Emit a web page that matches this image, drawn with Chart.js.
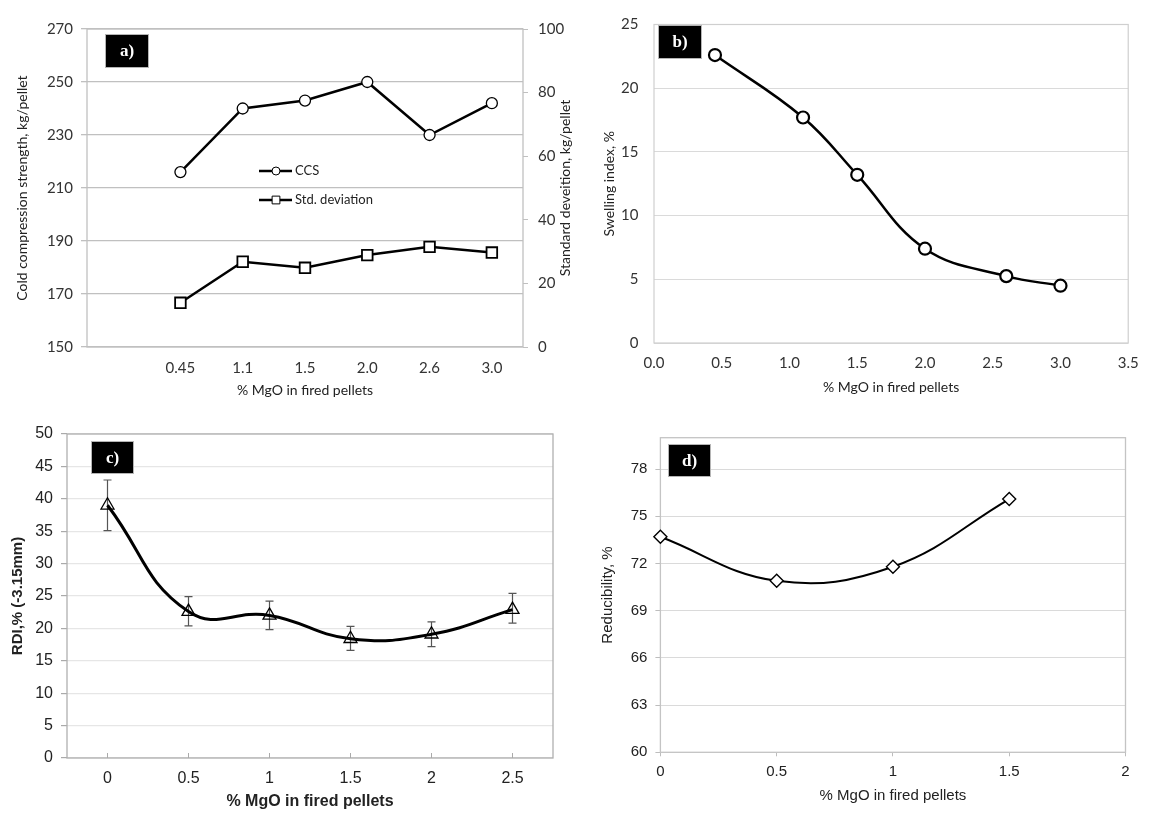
<!DOCTYPE html>
<html>
<head>
<meta charset="utf-8">
<title>MgO en pellets</title>
<script src="https://cdn.jsdelivr.net/npm/chart.js@4.4.1/dist/chart.umd.min.js"></script>
<style>
  html, body { margin: 0; padding: 0; background: #fff; }
  #page { position: relative; width: 1150px; height: 819px; overflow: hidden; }
  .panel { position: absolute; }
  .tag {
    position: absolute; background: #000; color: #fff;
    font: bold 17px "Liberation Serif", "DejaVu Serif", serif;
    display: flex; align-items: center; justify-content: center;
    box-shadow: 0 0 0 1px #b5b5b5;
  }
</style>
</head>
<body>
<div id="page">
  <div class="panel" style="left:0;top:0;width:580px;height:400px"><canvas id="chartA"></canvas></div>
  <div class="panel" style="left:580px;top:0;width:570px;height:400px"><canvas id="chartB"></canvas></div>
  <div class="panel" style="left:0;top:400px;width:580px;height:419px"><canvas id="chartC"></canvas></div>
  <div class="panel" style="left:580px;top:400px;width:570px;height:419px"><canvas id="chartD"></canvas></div>

  <div class="tag" style="left:106px;top:35px;width:42px;height:32px">a)</div>
  <div class="tag" style="left:659px;top:26px;width:42px;height:32px">b)</div>
  <div class="tag" style="left:92px;top:442px;width:41px;height:31px">c)</div>
  <div class="tag" style="left:669px;top:445px;width:41px;height:31px">d)</div>
</div>

<script>
// a) CCS y desviación estándar
const mgoA = ['', '0.45', '1.1', '1.5', '2.0', '2.6', '3.0'];
const ccs = [null, 216, 240, 243, 250, 230, 242];
const stdDev = [null, 13.9, 26.8, 24.9, 28.9, 31.5, 29.7];

// b) Swelling index
const mgoB = [0.45, 1.1, 1.5, 2.0, 2.6, 3.0];
const swelling = [22.6, 17.7, 13.2, 7.4, 5.25, 4.5];

// c) RDI con barras de error
const mgoC = ['0', '0.5', '1', '1.5', '2', '2.5'];
const rdi = [39.0, 22.6, 22.0, 18.4, 19.1, 22.9];
const rdiHigh = [42.9, 24.9, 24.2, 20.3, 21.0, 25.4];
const rdiLow = [35.1, 20.4, 19.8, 16.6, 17.2, 20.8];

// d) Reducibility
const mgoD = [0, 0.5, 1, 1.5];
const reducibility = [73.7, 70.9, 71.8, 76.1];
const ticksD = [60, 63, 66, 69, 72, 75, 78];

const sansAB = 'Lato, "Open Sans", sans-serif';
const sansCD = '"Liberation Sans", Arial, sans-serif';

// Marco alrededor del área del gráfico
function frame(color, width) {
  return {
    id: 'frame',
    beforeDatasetsDraw(chart) {
      const { ctx, chartArea: a } = chart;
      ctx.save();
      ctx.strokeStyle = color;
      ctx.lineWidth = width;
      ctx.strokeRect(a.left, a.top, a.right - a.left, a.bottom - a.top);
      ctx.restore();
    }
  };
}

// Leyenda y título derecho del panel a)
const extrasA = {
  id: 'extrasA',
  afterDraw(chart) {
    const { ctx } = chart;
    const drawPoint = Chart.helpers.drawPoint;
    const items = [
      { text: 'CCS', y: 171, style: 'circle', r: 4 },
      { text: 'Std. deviation', y: 200, style: 'rect', r: 5.5 }
    ];
    ctx.save();
    items.forEach(it => {
      ctx.strokeStyle = '#000';
      ctx.lineWidth = 2.5;
      ctx.beginPath();
      ctx.moveTo(259, it.y);
      ctx.lineTo(292, it.y);
      ctx.stroke();
      ctx.fillStyle = '#fff';
      ctx.lineWidth = 1;
      drawPoint(ctx, { pointStyle: it.style, radius: it.r, borderWidth: 1 }, 276, it.y);
      ctx.fillStyle = '#222';
      ctx.font = '13px ' + sansAB;
      ctx.textBaseline = 'middle';
      ctx.fillText(it.text, 295, it.y);
    });
    // título del eje secundario, leído de abajo hacia arriba
    const a = chart.chartArea;
    ctx.translate(565, (a.top + a.bottom) / 2);
    ctx.rotate(-Math.PI / 2);
    ctx.font = '14px ' + sansAB;
    ctx.textAlign = 'center';
    ctx.fillText('Standard deveition, kg/pellet', 0, 0);
    ctx.restore();
  }
};

// Barras de error del panel c)
const errorBarsC = {
  id: 'errorBarsC',
  beforeDatasetsDraw(chart) {
    const { ctx } = chart;
    const y = chart.scales.y;
    const meta = chart.getDatasetMeta(0);
    ctx.save();
    ctx.strokeStyle = '#555';
    ctx.lineWidth = 1.2;
    meta.data.forEach((pt, i) => {
      const yh = y.getPixelForValue(rdiHigh[i]);
      const yl = y.getPixelForValue(rdiLow[i]);
      ctx.beginPath();
      ctx.moveTo(pt.x, yh); ctx.lineTo(pt.x, yl);
      ctx.moveTo(pt.x - 4, yh); ctx.lineTo(pt.x + 4, yh);
      ctx.moveTo(pt.x - 4, yl); ctx.lineTo(pt.x + 4, yl);
      ctx.stroke();
    });
    ctx.restore();
  }
};

// Marcas interiores del eje x del panel c)
const innerTicksC = {
  id: 'innerTicksC',
  beforeDatasetsDraw(chart) {
    const { ctx, chartArea: a } = chart;
    const x = chart.scales.x;
    ctx.save();
    ctx.strokeStyle = '#aaa';
    ctx.lineWidth = 1;
    x.ticks.forEach((t, i) => {
      const px = x.getPixelForTick(i);
      ctx.beginPath();
      ctx.moveTo(px, a.bottom);
      ctx.lineTo(px, a.bottom - 5);
      ctx.stroke();
    });
    ctx.restore();
  }
};

const base = {
  animation: false,
  responsive: true,
  maintainAspectRatio: false,
  plugins: { legend: { display: false }, tooltip: { enabled: false } }
};

// ---------- a)
new Chart(document.getElementById('chartA'), {
  type: 'line',
  data: {
    labels: mgoA,
    datasets: [
      {
        label: 'CCS', data: ccs, yAxisID: 'y',
        borderColor: '#000', borderWidth: 2.5, tension: 0, clip: false,
        pointStyle: 'circle', pointRadius: 5.5, pointBorderWidth: 1.3,
        pointBackgroundColor: '#fff', pointBorderColor: '#000'
      },
      {
        label: 'Std. deviation', data: stdDev, yAxisID: 'y1',
        borderColor: '#000', borderWidth: 2.5, tension: 0, clip: false,
        pointStyle: 'rect', pointRadius: 7.5, pointBorderWidth: 1.8,
        pointBackgroundColor: '#fff', pointBorderColor: '#000'
      }
    ]
  },
  options: {
    ...base,
    layout: { padding: { top: 29, right: 0, bottom: 0, left: 0 } },
    scales: {
      x: {
        offset: true,
        grid: { display: false, drawTicks: false },
        border: { display: false },
        ticks: { padding: 12, color: '#333', font: { family: sansAB, size: 15 }, autoSkip: false, maxRotation: 0 },
        title: { display: true, text: '% MgO in fired pellets', color: '#222', font: { family: sansAB, size: 14 }, padding: { top: 0, bottom: 1.6 } },
        afterFit: s => { s.height = 53; }
      },
      y: {
        position: 'left', min: 150, max: 270,
        ticks: { stepSize: 20, padding: 8, color: '#333', font: { family: sansAB, size: 15 } },
        grid: { color: '#c0c0c0', lineWidth: 1.3, tickLength: 6, tickColor: '#c0c0c0' },
        border: { display: false },
        title: { display: true, text: 'Cold compression strength, kg/pellet', color: '#222', font: { family: sansAB, size: 14 }, padding: { top: 13.6, bottom: 0 } },
        afterFit: s => { s.width = 87; }
      },
      y1: {
        position: 'right', min: 0, max: 100,
        ticks: { stepSize: 20, padding: 10, color: '#333', font: { family: sansAB, size: 15 } },
        grid: { drawOnChartArea: false, tickLength: 5, color: '#c0c0c0' },
        border: { display: false },
        afterFit: s => { s.width = 57; }
      }
    }
  },
  plugins: [frame('#c0c0c0', 1.3), extrasA]
});

// ---------- b)
new Chart(document.getElementById('chartB'), {
  type: 'line',
  data: {
    datasets: [{
      label: 'Swelling index',
      data: mgoB.map((v, i) => ({ x: v, y: swelling[i] })),
      borderColor: '#000', borderWidth: 2.5, tension: 0.4, clip: false,
      pointStyle: 'circle', pointRadius: 6, pointBorderWidth: 2.2,
      pointBackgroundColor: '#fff', pointBorderColor: '#000'
    }]
  },
  options: {
    ...base,
    layout: { padding: { top: 19, right: 20, bottom: 0, left: 0 } },
    scales: {
      x: {
        type: 'linear', min: 0, max: 3.5,
        grid: { display: false, drawTicks: false },
        border: { display: false },
        ticks: { stepSize: 0.5, padding: 11.3, color: '#333', font: { family: sansAB, size: 15 }, callback: v => v.toFixed(1) },
        title: { display: true, text: '% MgO in fired pellets', color: '#222', font: { family: sansAB, size: 14 }, padding: { top: 0, bottom: 3.9 } },
        afterFit: s => { s.height = 57; }
      },
      y: {
        min: 0, max: 25,
        ticks: { stepSize: 5, padding: 15.5, color: '#333', font: { family: sansAB, size: 15 } },
        grid: { color: '#dadada', lineWidth: 1, drawTicks: false },
        border: { display: false },
        title: { display: true, text: 'Swelling index, %', color: '#222', font: { family: sansAB, size: 14 }, padding: { top: 20.6, bottom: 0 } },
        afterFit: s => { s.width = 74; }
      }
    }
  },
  plugins: [frame('#cfcfcf', 1.2)]
});

// ---------- c)
new Chart(document.getElementById('chartC'), {
  type: 'line',
  data: {
    labels: mgoC,
    datasets: [{
      label: 'RDI',
      data: rdi,
      borderColor: '#000', borderWidth: 3, tension: 0.45, clip: false,
      pointStyle: 'triangle', pointRadius: 7.5, pointBorderWidth: 1.3,
      pointBackgroundColor: 'rgba(255,255,255,0)', pointBorderColor: '#000'
    }]
  },
  options: {
    ...base,
    layout: { padding: { top: 34, right: 27, bottom: 0, left: 0 } },
    scales: {
      x: {
        offset: true,
        grid: { display: false, drawTicks: false },
        border: { display: false },
        ticks: { padding: 11, color: '#222', font: { family: sansCD, size: 16 }, autoSkip: false, maxRotation: 0 },
        title: { display: true, text: '% MgO in fired pellets', color: '#222', font: { family: sansCD, size: 16, weight: 'bold' }, padding: { top: 0, bottom: 7.7 } },
        afterFit: s => { s.height = 61; }
      },
      y: {
        min: 0, max: 50,
        ticks: { stepSize: 5, padding: 8, color: '#222', font: { family: sansCD, size: 16 } },
        grid: { color: '#e6e6e6', lineWidth: 1.2, tickLength: 6, tickColor: '#aaa' },
        border: { display: false },
        title: { display: true, text: 'RDI,% (-3.15mm)', color: '#222', font: { family: sansCD, size: 15, weight: 'bold' }, padding: { top: 9, bottom: 0 } },
        afterFit: s => { s.width = 67; }
      }
    }
  },
  plugins: [frame('#b0b0b0', 1.3), innerTicksC, errorBarsC]
});

// ---------- d)
new Chart(document.getElementById('chartD'), {
  type: 'line',
  data: {
    datasets: [{
      label: 'Reducibility',
      data: mgoD.map((v, i) => ({ x: v, y: reducibility[i] })),
      borderColor: '#000', borderWidth: 2, tension: 0.4, clip: false,
      pointStyle: 'rectRot', pointRadius: 6.5, pointBorderWidth: 1.4,
      pointBackgroundColor: '#fff', pointBorderColor: '#000'
    }]
  },
  options: {
    ...base,
    layout: { padding: { top: 37.7, right: 24.5, bottom: 0, left: 0 } },
    scales: {
      x: {
        type: 'linear', min: 0, max: 2,
        grid: { display: true, drawOnChartArea: false, drawTicks: true, tickLength: 4, color: '#bdbdbd' },
        border: { display: false },
        ticks: { stepSize: 0.5, padding: 7, color: '#222', font: { family: sansCD, size: 15 }, callback: v => String(v) },
        title: { display: true, text: '% MgO in fired pellets', color: '#222', font: { family: sansCD, size: 15 }, padding: { top: 0, bottom: 14 } },
        afterFit: s => { s.height = 66.7; }
      },
      y: {
        min: 60, max: 80,
        afterBuildTicks: s => { s.ticks = ticksD.map(v => ({ value: v })); },
        ticks: { padding: 8, color: '#222', font: { family: sansCD, size: 15 } },
        grid: { color: '#dadada', lineWidth: 1, tickLength: 5, tickColor: '#bdbdbd' },
        border: { display: false },
        title: { display: true, text: 'Reducibility, %', color: '#222', font: { family: sansCD, size: 15 }, padding: { top: 18.4, bottom: 0 } },
        afterFit: s => { s.width = 80.4; }
      }
    }
  },
  plugins: [frame('#c4c4c4', 1.3)]
});
</script>
</body>
</html>
